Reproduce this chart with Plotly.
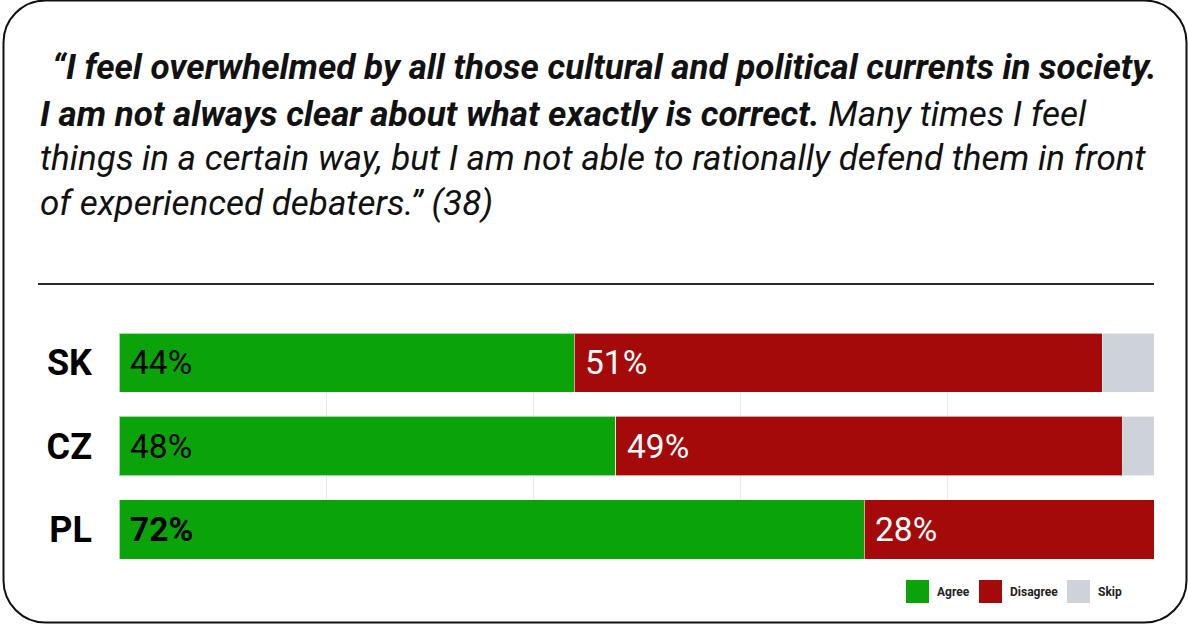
import plotly.graph_objects as go

# Survey shares per country (percent)
countries = ["SK", "CZ", "PL"]
agree = [44, 48, 72]
disagree = [51, 49, 28]
skip = [5, 3, 0]
series_names = ["Agree", "Disagree", "Skip"]
colors = ["#0aa30a", "#a50a0a", "#ced3da"]
label_colors = ["#000000", "#ffffff", "#000000"]
bold_labels = {"PL": True}

W, H = 1188, 624
ML, MR, MT, MB = 119, 34, 333, 65
PW, PH = W - ML - MR, H - MT - MB
BARGAP = 0.29
half = (1 - BARGAP) / 2


def px(x):
    return (x - ML) / PW


def py(y):
    return (H - MB - y) / PH


fig = go.Figure()
series = [agree, disagree, skip]
for name, vals, col in zip(series_names, series, colors):
    fig.add_trace(go.Bar(
        y=countries, x=vals, name=name, orientation="h",
        marker=dict(color=col, line=dict(color="rgba(255,255,255,0.6)", width=1)),
        showlegend=False, hoverinfo="x+name",
    ))

# Percentage labels at the start of each segment
annotations = []
for i, c in enumerate(countries):
    start = 0
    for k, vals in enumerate(series):
        v = vals[i]
        if v >= 10:
            txt = f"{v}%"
            if bold_labels.get(c) and k == 0:
                txt = f"<b>{txt}</b>"
            annotations.append(dict(
                x=start, y=c, xref="x", yref="y", text=txt, showarrow=False,
                xanchor="left", yanchor="middle", xshift=9,
                font=dict(family="Roboto", size=33.5, color=label_colors[k]),
            ))
        start += v

# Quote heading
title_lines = [
    (50, "<b><i>“I feel overwhelmed by all those cultural and political currents in society.</i></b>"),
    (38, "<b><i>I am not always clear about what exactly is correct.</i></b><i> Many times I feel</i>"),
    (38, "<i>things in a certain way, but I am not able to rationally defend them in front</i>"),
    (38, "<i>of experienced debaters.” (38)</i>"),
]
baselines = [80, 126, 171, 216]
for (x0, txt), b in zip(title_lines, baselines):
    annotations.append(dict(
        x=px(x0), y=py(b - 12), xref="paper", yref="paper", text=txt,
        showarrow=False, xanchor="left", yanchor="middle",
        font=dict(family="Roboto", size=35, color="#111111"),
    ))

# Legend
legend_items = [(906, "Agree"), (979, "Disagree"), (1067, "Skip")]
shapes = []
for (x0, name), col in zip(legend_items, colors):
    shapes.append(dict(
        type="rect", xref="paper", yref="paper",
        x0=px(x0), x1=px(x0 + 23), y0=py(580), y1=py(603),
        fillcolor=col, line=dict(width=0),
    ))
    annotations.append(dict(
        x=px(x0 + 29), y=py(591.5), xref="paper", yref="paper", text=f"<b>{name}</b>",
        showarrow=False, xanchor="left", yanchor="middle",
        font=dict(family="Roboto", size=12, color="#222222"),
    ))

# Divider under the heading
shapes.append(dict(type="line", xref="paper", yref="paper",
                   x0=px(38), x1=px(1154), y0=py(284), y1=py(284),
                   line=dict(color="#2a2a2a", width=2)))

# Rounded frame around the card
L, R, T, B, r = 3.5, 1186.5, 0.5, 622.5, 42
k = 0.5523 * r
pts = [
    f"M {px(L)},{py(T + r)}",
    f"C {px(L)},{py(T + r - k)} {px(L + r - k)},{py(T)} {px(L + r)},{py(T)}",
    f"L {px(R - r)},{py(T)}",
    f"C {px(R - r + k)},{py(T)} {px(R)},{py(T + r - k)} {px(R)},{py(T + r)}",
    f"L {px(R)},{py(B - r)}",
    f"C {px(R)},{py(B - r + k)} {px(R - r + k)},{py(B)} {px(R - r)},{py(B)}",
    f"L {px(L + r)},{py(B)}",
    f"C {px(L + r - k)},{py(B)} {px(L)},{py(B - r + k)} {px(L)},{py(B - r)}",
    "Z",
]
shapes.append(dict(type="path", xref="paper", yref="paper", path=" ".join(pts),
                   line=dict(color="#111111", width=2), layer="above"))

fig.update_layout(
    width=W, height=H, barmode="stack", bargap=BARGAP,
    margin=dict(l=ML, r=MR, t=MT, b=MB, pad=0),
    paper_bgcolor="white", plot_bgcolor="white",
    annotations=annotations, shapes=shapes,
    xaxis=dict(range=[0, 100], tickvals=[20, 40, 60, 80, 100], showticklabels=False,
               showgrid=True, gridcolor="#e9e9e9", gridwidth=1, zeroline=False,
               fixedrange=True),
    yaxis=dict(categoryorder="array", categoryarray=countries[::-1],
               range=[-half, len(countries) - 1 + half],
               tickfont=dict(family="Roboto", size=36, color="#000000", weight="bold"),
               ticklabelstandoff=26, showgrid=False, fixedrange=True),
    font=dict(family="Roboto"),
)

fig.write_html("out.html")
